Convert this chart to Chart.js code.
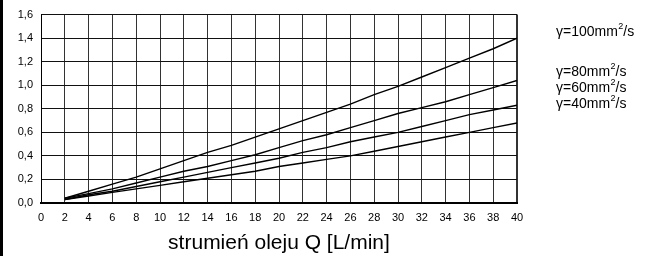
<!DOCTYPE html>
<html>
<head>
<meta charset="utf-8">
<script src="https://cdn.jsdelivr.net/npm/chart.js@4"></script>
<style>
  html, body { margin: 0; padding: 0; background: #fff; }
  #wrap { width: 647px; height: 256px; position: relative; }
</style>
</head>
<body>
<div id="wrap"><canvas id="oilChart" width="647" height="256"></canvas></div>
<script>
const flowQ = [2, 4, 6, 8, 10, 12, 14, 16, 18, 20, 22, 24, 26, 28, 30, 32, 34, 36, 38, 40];
const visc100 = [0.04, 0.10, 0.16, 0.22, 0.29, 0.36, 0.43, 0.49, 0.56, 0.63, 0.70, 0.77, 0.84, 0.92, 0.99, 1.07, 1.15, 1.23, 1.31, 1.40];
const visc80  = [0.04, 0.08, 0.12, 0.17, 0.22, 0.27, 0.31, 0.36, 0.41, 0.47, 0.53, 0.58, 0.64, 0.70, 0.76, 0.81, 0.86, 0.92, 0.98, 1.04];
const visc60  = [0.03, 0.07, 0.10, 0.14, 0.18, 0.22, 0.26, 0.30, 0.34, 0.38, 0.43, 0.47, 0.52, 0.56, 0.60, 0.65, 0.70, 0.75, 0.79, 0.83];
const visc40  = [0.03, 0.06, 0.09, 0.12, 0.15, 0.18, 0.21, 0.24, 0.27, 0.31, 0.34, 0.37, 0.40, 0.44, 0.48, 0.52, 0.56, 0.60, 0.64, 0.68];
const seriesLabels = ['γ=100mm²/s', 'γ=80mm²/s', 'γ=60mm²/s', 'γ=40mm²/s'];
const xTitle = 'strumień oleju Q [L/min]';

const FONT = '"Liberation Sans", Arial, Helvetica, sans-serif';

function toPoints(values) {
    return values.map((v, i) => ({ x: flowQ[i], y: v }));
}

// white page with the black strip on the left edge
const pageBackground = {
    id: 'pageBackground',
    beforeDraw(chart) {
        const { ctx, width, height } = chart;
        ctx.save();
        ctx.fillStyle = '#fff';
        ctx.fillRect(0, 0, width, height);
        ctx.fillStyle = '#000';
        ctx.fillRect(0, 0, 3, height);
        ctx.restore();
    }
};

// legend is just text on the right, with a raised "2"
const sideLabels = {
    id: 'sideLabels',
    afterDraw(chart) {
        const { ctx, chartArea } = chart;
        const rows = [32, 72, 88, 104];
        ctx.save();
        ctx.fillStyle = '#000';
        ctx.textBaseline = 'middle';
        chart.data.datasets.forEach((ds, i) => {
            const parts = ds.label.split('²');
            let x = chartArea.right + 39;
            const y = rows[i];
            ctx.font = '14px ' + FONT;
            ctx.fillText(parts[0], x, y);
            x += ctx.measureText(parts[0]).width;
            if (parts.length > 1) {
                ctx.font = '9px ' + FONT;
                ctx.fillText('2', x + 0.5, y - 5);
                x += ctx.measureText('2').width + 0.5;
                ctx.font = '14px ' + FONT;
                ctx.fillText(parts[1], x, y);
            }
        });
        ctx.restore();
    }
};

const lineStyle = { borderColor: '#000', borderWidth: 1.4, pointRadius: 0, fill: false, tension: 0 };

new Chart(document.getElementById('oilChart'), {
    type: 'line',
    data: {
        datasets: [
            { label: seriesLabels[0], data: toPoints(visc100), ...lineStyle },
            { label: seriesLabels[1], data: toPoints(visc80), ...lineStyle },
            { label: seriesLabels[2], data: toPoints(visc60), ...lineStyle },
            { label: seriesLabels[3], data: toPoints(visc40), ...lineStyle }
        ]
    },
    options: {
        responsive: false,
        animation: false,
        layout: { padding: { left: 0, top: 13, right: 130, bottom: 0 } },
        plugins: {
            legend: { display: false },
            tooltip: { enabled: false }
        },
        scales: {
            x: {
                type: 'linear',
                min: 0,
                max: 40,
                afterFit: s => { s.height = 53; },
                ticks: {
                    stepSize: 2,
                    color: '#000',
                    padding: 8,
                    maxRotation: 0,
                    font: { family: FONT, size: 11 }
                },
                grid: {
                    drawTicks: false,
                    color: '#333',
                    lineWidth: c => (c.tick && c.tick.value === 40 ? 2 : 1)
                },
                border: { color: '#000', width: 2 },
                title: {
                    display: true,
                    text: xTitle,
                    color: '#000',
                    font: { family: FONT, size: 21 },
                    padding: { top: 4, bottom: 0 }
                }
            },
            y: {
                min: 0,
                max: 1.6,
                afterFit: s => { s.width = 41; },
                ticks: {
                    stepSize: 0.2,
                    color: '#000',
                    padding: 8,
                    font: { family: FONT, size: 11 },
                    callback: v => v.toFixed(1).replace('.', ',')
                },
                grid: {
                    drawTicks: false,
                    color: '#111',
                    lineWidth: 1
                },
                border: { color: '#000', width: 1 }
            }
        }
    },
    plugins: [pageBackground, sideLabels]
});
</script>
</body>
</html>
